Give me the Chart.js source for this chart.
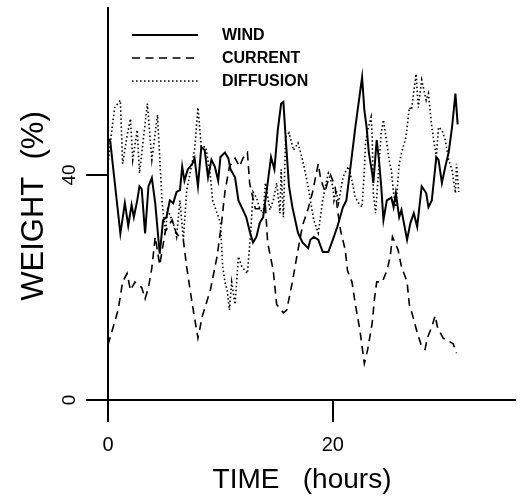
<!DOCTYPE html>
<html>
<head>
<meta charset="utf-8">
<title>Weight over time</title>
<script src="https://cdn.jsdelivr.net/npm/chart.js@4.4.0/dist/chart.umd.min.js"></script>
<style>
  html, body { margin: 0; padding: 0; background: #fff; }
</style>
</head>
<body>
<canvas id="weightChart" width="520" height="503"></canvas>
<script>
// values (time in hours, weight in %)
const seriesNames = ['WIND', 'CURRENT', 'DIFFUSION'];

const windTime = [0, 0.2, 1.1, 1.5, 1.8, 2.1, 2.3, 2.6, 2.8, 3.0, 3.3, 3.6, 3.9, 4.2, 4.6, 4.9, 5.2, 5.5, 5.8, 6.1,
  6.4, 6.6, 6.8, 7.1, 7.5, 7.7, 8.0, 8.3, 8.6, 8.9, 9.2, 9.5, 9.8, 10.0, 10.4, 10.7, 10.9, 11.3, 11.6, 12.0,
  12.3, 12.6, 12.9, 13.2, 13.5, 13.8, 14.0, 14.5, 14.8, 15.1, 15.4, 15.6, 15.8, 16.1, 16.4, 16.9, 17.3, 17.8, 18.0, 18.3,
  18.7, 19.1, 19.6, 20.0, 20.4, 20.9, 21.2, 21.6, 22.0, 22.6, 22.8, 23.0, 23.2, 23.5, 23.6, 23.9, 24.1, 24.3, 24.5, 24.8,
  25.2, 25.4, 25.6, 25.9, 26.1, 26.6, 26.9, 27.2, 27.5, 27.9, 28.3, 28.5, 28.8, 29.2, 29.4, 29.7, 30.0, 30.3, 30.6, 30.9,
  31.1];
const windWeight = [46.5, 46, 29.6, 35, 31, 34.7, 32.5, 35.5, 38, 37.5, 29.6, 38, 39.5, 35, 26, 32, 32.5, 35.5, 35, 37,
  37.3, 41.5, 39, 41, 42, 43, 38, 45, 44.4, 39.6, 42.7, 41.5, 39, 43.2, 44, 43, 41, 39.6, 35.5, 33.8,
  32.5, 30, 28, 29, 31.5, 32.5, 35.5, 43.2, 41, 48, 52.7, 53, 46.7, 38, 34.3, 29.7, 28, 27, 28.5, 29,
  28.5, 26.3, 26.3, 28.5, 30.8, 34.3, 35.5, 42, 48.5, 57.4, 51.6, 48.5, 44, 40.3, 38.6, 46.2, 42.7, 38, 32, 35.5,
  36, 34.3, 36.8, 32.5, 33.8, 28.5, 31.5, 33.2, 30.8, 38, 36.8, 34.3, 35.5, 43.2, 42.7, 38.6, 41.5, 44, 48.5, 54.5,
  49];

const currentTime = [0, 0.9, 1.3, 1.7, 2.0, 2.4, 3.0, 3.3, 3.6, 3.9, 4.2, 4.6, 5.1, 5.7, 6.1, 6.7, 7.0, 7.5, 8.0, 8.4,
  9.1, 9.7, 10.1, 10.4, 10.8, 11.3, 11.7, 12.0, 12.4, 12.6, 13.1, 13.7, 14.0, 14.2, 14.7, 15.0, 15.6, 15.9, 16.4, 16.9,
  17.3, 17.8, 18.2, 18.7, 18.9, 19.3, 19.5, 19.8, 20.2, 20.4, 20.7, 21.1, 21.3, 21.7, 22.0, 22.4, 22.8, 23.1, 23.5, 23.7,
  23.9, 24.4, 24.8, 25.1, 25.3, 25.8, 26.1, 26.6, 26.8, 27.1, 27.5, 27.9, 28.2, 28.4, 28.8, 29.1, 29.3, 29.8, 30.2, 30.7,
  31.0];
const currentWeight = [9.8, 16, 21, 22.5, 19.5, 21, 20, 18, 20, 23.5, 29, 24, 30, 32, 29.5, 28.5, 23.6, 17, 11, 15,
  19.5, 25.5, 31.5, 37, 41.5, 43, 41.5, 43, 44, 38.5, 34, 34, 34.5, 28, 23, 17, 15.5, 16, 21, 26.7,
  31, 34, 37, 42, 39.5, 37, 38.5, 40, 38, 34, 30, 26.7, 23, 21, 17, 12.5, 6.5, 9, 13.7, 18,
  21, 21, 23, 25.5, 29, 26.7, 23.7, 21, 17, 15, 12, 9.5, 9, 11, 13, 15, 13, 11, 10.6, 10,
  8.3];

const diffusionTime = [0, 0.4, 0.6, 1.1, 1.3, 1.7, 2.0, 2.2, 2.6, 2.8, 3.5, 3.9, 4.4, 4.8, 5.1, 5.3, 5.8, 6.1, 6.4, 6.7,
  7.0, 7.3, 7.7, 8.0, 8.3, 8.7, 9.1, 9.3, 9.6, 10.0, 10.2, 10.4, 10.6, 10.8, 11.0, 11.3, 11.6, 11.9, 12.4, 12.7,
  12.9, 13.2, 13.5, 13.8, 14.0, 14.4, 14.7, 15.0, 15.3, 15.4, 15.6, 15.8, 16.1, 16.5, 16.9, 17.3, 17.8, 18.0, 18.3, 18.7,
  19.1, 19.4, 19.6, 20.0, 20.1, 20.3, 20.5, 20.9, 21.2, 21.4, 21.8, 22.0, 22.3, 22.6, 22.8, 22.9, 23.1, 23.4, 23.5, 23.6,
  23.8, 24.3, 24.5, 24.8, 25.0, 25.2, 25.4, 25.6, 25.9, 26.1, 26.5, 26.8, 27.0, 27.4, 27.6, 27.9, 28.3, 28.5, 28.8, 29.2,
  29.4, 29.7, 30.0, 30.3, 30.6, 30.9, 31.0, 31.2];
const diffusionWeight = [42, 49, 52, 53.3, 42, 47, 50, 42.7, 48, 40.3, 52.7, 42.7, 50.7, 35.5, 29.6, 33.8, 31.5, 29, 35.5, 28.5,
  37.3, 40.3, 44.4, 52, 45, 45, 40, 35.5, 33.8, 31.5, 23.7, 21, 19.5, 16, 21, 17, 25.5, 23.7, 22.5, 30,
  37, 36, 34, 33.2, 38.6, 33.8, 35.5, 38.6, 33.2, 41, 32.5, 46.7, 47.5, 44.4, 45.7, 42.7, 38, 35.5, 32, 29.7,
  35.5, 38.6, 40.3, 38, 35.5, 37.3, 35, 39.6, 40.9, 41.5, 38, 36, 35, 34.3, 40.9, 45.7, 48, 50.3, 47, 36.8,
  33.2, 47.5, 49.8, 45.7, 42.7, 40.9, 36.8, 34.3, 42, 43.9, 46.7, 52, 51.6, 58, 52, 56.9, 53.3, 54.5, 48.5, 43.2,
  48.5, 48, 46.2, 42.7, 40.9, 36.8, 42, 37];

const timeTicks = [0, 20];
const weightTicks = [0, 40];

function toPoints(xs, ys) {
    return xs.map((x, i) => ({ x: x, y: ys[i] }));
}

// rotated y tick labels, axis titles and the key are drawn here
const axisText = {
    id: 'axisText',
    afterDraw(chart) {
        const ctx = chart.ctx;
        const yScale = chart.scales.y;
        ctx.save();
        ctx.fillStyle = '#000';

        ctx.font = '19px "Liberation Sans", Arial, sans-serif';
        ctx.textAlign = 'center';
        ctx.textBaseline = 'middle';
        yScale.ticks.forEach(function(t) {
            ctx.save();
            ctx.translate(70, yScale.getPixelForValue(t.value));
            ctx.rotate(-Math.PI / 2);
            ctx.fillText(String(t.value), 0, 0);
            ctx.restore();
        });

        ctx.textBaseline = 'alphabetic';
        ctx.font = '28px "Liberation Sans", Arial, sans-serif';
        ctx.fillText('TIME   (hours)', 302, 488);

        ctx.save();
        ctx.translate(43, 206);
        ctx.rotate(-Math.PI / 2);
        ctx.font = '31px "Liberation Sans", Arial, sans-serif';
        ctx.fillText('WEIGHT  (%)', 0, 0);
        ctx.restore();

        // key
        ctx.font = 'bold 16px "Liberation Sans", Arial, sans-serif';
        ctx.textAlign = 'left';
        ctx.textBaseline = 'middle';
        chart.data.datasets.forEach(function(ds, i) {
            const y = 35 + i * 23;
            ctx.beginPath();
            ctx.setLineDash(ds.borderDash || []);
            ctx.lineWidth = ds.borderWidth;
            ctx.strokeStyle = ds.borderColor;
            ctx.moveTo(132, y);
            ctx.lineTo(198, y);
            ctx.stroke();
            ctx.setLineDash([]);
            ctx.fillText(ds.label, 222, y + 1);
        });
        ctx.restore();
    }
};

const ctx = document.getElementById('weightChart').getContext('2d');
const weightChart = new Chart(ctx, {
    type: 'line',
    data: {
        datasets: [{
            label: seriesNames[0],
            data: toPoints(windTime, windWeight),
            borderColor: '#000',
            borderWidth: 2
        }, {
            label: seriesNames[1],
            data: toPoints(currentTime, currentWeight),
            borderColor: '#000',
            borderWidth: 1.6,
            borderDash: [8, 5.5]
        }, {
            label: seriesNames[2],
            data: toPoints(diffusionTime, diffusionWeight),
            borderColor: '#000',
            borderWidth: 1.6,
            borderDash: [1.5, 2.5]
        }]
    },
    options: {
        responsive: false,
        animation: false,
        devicePixelRatio: 1,
        elements: {
            point: { radius: 0 },
            line: { tension: 0, fill: false }
        },
        layout: { padding: { top: 8, right: 5, left: 0, bottom: 0 } },
        plugins: {
            legend: { display: false },
            tooltip: { enabled: false }
        },
        scales: {
            x: {
                type: 'linear',
                min: 0,
                max: 36.2,
                afterBuildTicks: function(scale) {
                    scale.ticks = timeTicks.map(v => ({ value: v }));
                },
                afterFit: function(scale) { scale.height = 103; },
                border: { display: true, color: '#000', width: 2 },
                grid: { drawOnChartArea: false, drawTicks: true, tickLength: 22, color: '#000', lineWidth: 2 },
                ticks: {
                    color: '#000',
                    padding: 11,
                    maxRotation: 0,
                    font: { family: '"Liberation Sans", Arial, sans-serif', size: 20 }
                }
            },
            y: {
                min: 0,
                max: 69.7,
                afterBuildTicks: function(scale) {
                    scale.ticks = weightTicks.map(v => ({ value: v }));
                },
                afterFit: function(scale) { scale.width = 108; },
                border: { display: true, color: '#000', width: 2 },
                grid: { drawOnChartArea: false, drawTicks: true, tickLength: 22, color: '#000', lineWidth: 2 },
                ticks: { display: false }
            }
        }
    },
    plugins: [axisText]
});
</script>
</body>
</html>
